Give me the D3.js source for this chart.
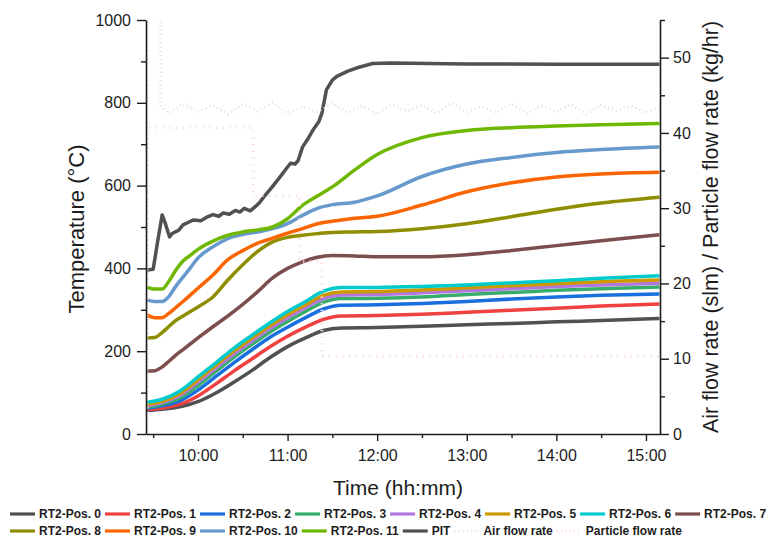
<!DOCTYPE html>
<html>
<head>
<meta charset="utf-8">
<script src="https://cdn.jsdelivr.net/npm/d3@7"></script>
<style>
  body { margin: 0; background: #fff; }
  svg { display: block; font-family: "Liberation Sans", Arial, sans-serif; }
</style>
</head>
<body>
<svg id="chart" width="771" height="543"></svg>
<script>
// ---- data ----
const lowTimes = ["9:26","9:36","9:48","10:00","10:12","10:24","10:36","10:48","11:00","11:12","11:24","11:36","12:00","12:30","13:00","13:30","14:00","14:30","15:09"];
const pos0 = [57, 60, 66, 78, 99, 125, 153, 184, 211, 232, 250, 256, 257, 260, 264, 267, 271, 274, 279];
const pos1 = [59, 63, 72, 92, 121, 152, 181, 210, 236, 258, 277, 285, 286, 289, 294, 299, 304, 309, 314];
const pos2 = [62, 68, 80, 106, 139, 172, 203, 233, 258, 281, 302, 311, 312, 315, 320, 326, 331, 335, 338];
const pos3 = [65, 72, 87, 117, 151, 185, 216, 246, 272, 296, 318, 327, 328, 331, 337, 342, 347, 351, 355];
const pos4 = [68, 76, 93, 125, 159, 193, 224, 254, 281, 305, 327, 336, 337, 341, 346, 351, 356, 360, 364];
const pos5 = [72, 79, 98, 131, 166, 200, 231, 261, 288, 312, 335, 343, 344, 348, 353, 358, 363, 368, 372];
const pos6 = [77, 84, 104, 138, 172, 207, 238, 268, 296, 320, 345, 354, 354, 356, 360, 365, 370, 376, 382];

const upTimes = ["9:26","9:31","9:36","9:40","9:45","9:50","9:55","10:00","10:10","10:20","10:30","10:40","10:50","11:00","11:10","11:20","11:30","11:45","12:00","12:30","13:00","13:30","14:00","14:30","15:09"];
const pos7  = [152, 153, 162, 174, 190, 204, 218, 232, 259, 285, 313, 344, 377, 400, 416, 427, 431, 430, 428, 428, 433, 443, 455, 467, 481];
const pos8  = [232, 233, 245, 258, 274, 285, 296, 307, 331, 372, 409, 441, 464, 475, 480, 484, 487, 488, 489, 496, 508, 525, 543, 558, 572];
const pos9  = [287, 281, 281, 290, 305, 320, 336, 352, 384, 421, 443, 461, 473, 485, 496, 508, 514, 521, 526, 553, 585, 607, 621, 628, 632];
const pos10 = [324, 320, 320, 330, 356, 379, 402, 425, 452, 472, 482, 488, 496, 508, 528, 545, 554, 560, 575, 622, 652, 668, 680, 687, 693];
const pos11 = [355, 350, 350, 366, 395, 418, 432, 446, 466, 480, 488, 493, 500, 520, 552, 575, 597, 638, 675, 716, 733, 740, 744, 747, 750];

const pitTimes = ["9:26","9:30","9:33","9:36","9:38","9:41","9:43","9:47","9:50","9:54","9:57","10:02","10:06","10:10","10:14","10:17","10:21","10:25","10:28","10:31","10:35","10:38","10:41","10:44","10:50","10:55","11:00","11:02","11:05","11:07","11:10","11:14","11:17","11:21","11:23","11:26","11:30","11:33","11:40","11:46","11:57","12:09","13:00","14:00","15:09"];
const pitValues = [396, 398, 465, 529, 510, 476, 485, 492, 505, 512, 517, 515, 524, 530, 526, 534, 531, 540, 536, 545, 539, 548, 558, 572, 598, 621, 645, 654, 652, 660, 693, 715, 734, 755, 775, 831, 855, 864, 876, 884, 895, 896, 894, 893, 893];

const airTimes = ["9:26","9:26","9:35","9:35","9:40","9:50","10:00","10:10","10:20","10:30","10:40","10:50","11:00","11:10","11:20","11:30","11:40","11:50","12:00","12:10","12:20","12:30","12:40","12:50","13:00","13:10","13:20","13:30","13:40","13:50","14:00","14:10","14:20","14:30","14:40","14:50","15:00","15:09"];
const airValues = [0, 60, 60, 43.6, 42.6, 43.9, 42.8, 43.7, 42.5, 43.8, 42.9, 44.0, 42.6, 43.5, 42.8, 43.9, 42.7, 43.6, 42.5, 43.8, 42.9, 43.7, 42.6, 44.0, 42.8, 43.5, 42.7, 43.9, 42.6, 43.6, 42.8, 43.8, 42.5, 43.7, 42.9, 43.6, 42.7, 43.4];

const particleTimes = ["9:26","9:26","10:37","10:37","11:08","11:08","11:23","11:23","15:09"];
const particleValues = [0, 40.7, 40.7, 31.7, 31.7, 22.9, 22.9, 10.3, 10.3];

const seriesNames = ["RT2-Pos. 0","RT2-Pos. 1","RT2-Pos. 2","RT2-Pos. 3","RT2-Pos. 4","RT2-Pos. 5","RT2-Pos. 6","RT2-Pos. 7","RT2-Pos. 8","RT2-Pos. 9","RT2-Pos. 10","RT2-Pos. 11","PIT","Air flow rate","Particle flow rate"];
const seriesColors = ["#515151","#F14040","#1A6FDF","#37AD6B","#B177DE","#CC9900","#00CBCC","#7D4E4E","#8E8E00","#FB6501","#6699CC","#6FB802","#515151","#e4e4e4","#f9dbe1"];

const tempTicks = [0, 200, 400, 600, 800, 1000];
const tempMinor = [100, 300, 500, 700, 900];
const flowTicks = [0, 10, 20, 30, 40, 50];
const flowMinor = [5, 15, 25, 35, 45, 55];
const hourTicks = ["10:00","11:00","12:00","13:00","14:00","15:00"];
const halfTicks = ["9:30","10:30","11:30","12:30","13:30","14:30"];

// ---- setup ----
const parseHM = d3.timeParse("%H:%M");
const parseHMS = d3.timeParse("%H:%M:%S");
const plot = { left: 146, right: 660, top: 20, bottom: 434 };
const ink = "#1c1c1c";
const font = '"Liberation Sans", Arial, sans-serif';

const svg = d3.select("#chart");

const x = d3.scaleTime()
  .domain([parseHMS("9:25:12"), parseHMS("15:09:24")])
  .range([plot.left, plot.right]);
const yT = d3.scaleLinear().domain([0, 1000]).range([plot.bottom, plot.top]);
const yF = d3.scaleLinear().domain([0, 55]).range([plot.bottom, plot.top]);

svg.append("defs").append("clipPath").attr("id", "clip")
  .append("rect")
  .attr("x", plot.left).attr("y", plot.top)
  .attr("width", plot.right - plot.left).attr("height", plot.bottom - plot.top);

// build series list
const tempSeries = [
  [lowTimes, pos0], [lowTimes, pos1], [lowTimes, pos2], [lowTimes, pos3],
  [lowTimes, pos4], [lowTimes, pos5], [lowTimes, pos6],
  [upTimes, pos7], [upTimes, pos8], [upTimes, pos9], [upTimes, pos10], [upTimes, pos11]
].map(([t, v], i) => ({
  name: seriesNames[i],
  color: seriesColors[i],
  pts: t.map((s, j) => ({ t: parseHM(s), v: v[j] }))
}));

const pit = pitTimes.map((s, j) => ({ t: parseHM(s), v: pitValues[j] }));
const air = airTimes.map((s, j) => ({ t: parseHM(s), v: airValues[j] }));
const particle = particleTimes.map((s, j) => ({ t: parseHM(s), v: particleValues[j] }));

const smoothT = d3.line().x(d => x(d.t)).y(d => yT(d.v)).curve(d3.curveMonotoneX);
const rawT = d3.line().x(d => x(d.t)).y(d => yT(d.v));
const rawF = d3.line().x(d => x(d.t)).y(d => yF(d.v));

const marks = svg.append("g").attr("clip-path", "url(#clip)");

marks.selectAll(".temp")
  .data(tempSeries)
  .enter()
  .append("path")
  .attr("class", "temp")
  .attr("d", d => smoothT(d.pts))
  .attr("fill", "none")
  .attr("stroke", d => d.color)
  .attr("stroke-width", 3.5)
  .attr("stroke-linejoin", "round");

marks.append("path")
  .attr("d", rawT(pit))
  .attr("fill", "none")
  .attr("stroke", seriesColors[12])
  .attr("stroke-width", 3.5)
  .attr("stroke-linejoin", "round");

marks.append("path")
  .attr("d", rawF(air))
  .attr("fill", "none")
  .attr("stroke", seriesColors[13])
  .attr("stroke-width", 2.5)
  .attr("stroke-dasharray", "1.2,3");

marks.append("path")
  .attr("d", rawF(particle))
  .attr("fill", "none")
  .attr("stroke", seriesColors[14])
  .attr("stroke-width", 3)
  .attr("stroke-dasharray", "1.2,5.5");

// ---- axes ----
function styleAxis(g) {
  g.attr("font-family", font).attr("font-size", 16);
  g.select(".domain").attr("stroke", ink).attr("stroke-width", 1.6);
  g.selectAll(".tick line").attr("stroke", ink).attr("stroke-width", 1.4);
  g.selectAll(".tick text").attr("fill", ink);
}
function minorAxis(g) {
  g.select(".domain").remove();
  g.selectAll(".tick line").attr("stroke", ink).attr("stroke-width", 1.4);
}

svg.append("g")
  .attr("transform", `translate(0,${plot.bottom})`)
  .call(d3.axisBottom(x).tickValues(halfTicks.map(parseHM)).tickSize(4).tickFormat(""))
  .call(minorAxis);
svg.append("g")
  .attr("transform", `translate(0,${plot.bottom})`)
  .call(d3.axisBottom(x).tickValues(hourTicks.map(parseHM)).tickSize(7).tickSizeOuter(0)
    .tickPadding(9).tickFormat(d3.timeFormat("%H:%M")))
  .call(styleAxis);

svg.append("g")
  .attr("transform", `translate(${plot.left},0)`)
  .call(d3.axisLeft(yT).tickValues(tempMinor).tickSize(5).tickFormat(""))
  .call(minorAxis);
svg.append("g")
  .attr("transform", `translate(${plot.left},0)`)
  .call(d3.axisLeft(yT).tickValues(tempTicks).tickSize(9).tickSizeOuter(0).tickPadding(6)
    .tickFormat(d3.format("d")))
  .call(styleAxis);

svg.append("g")
  .attr("transform", `translate(${plot.right},0)`)
  .call(d3.axisRight(yF).tickValues(flowMinor).tickSize(5).tickFormat(""))
  .call(minorAxis);
svg.append("g")
  .attr("transform", `translate(${plot.right},0)`)
  .call(d3.axisRight(yF).tickValues(flowTicks).tickSize(9).tickSizeOuter(0).tickPadding(4))
  .call(styleAxis);

// axis titles
svg.append("text")
  .attr("transform", "translate(84,229) rotate(-90)")
  .attr("text-anchor", "middle")
  .attr("font-family", font).attr("font-size", 22).attr("fill", ink)
  .text("Temperature (°C)");

svg.append("text")
  .attr("transform", "translate(718,227) rotate(-90)")
  .attr("text-anchor", "middle")
  .attr("font-family", font).attr("font-size", 21.5).attr("fill", ink)
  .text("Air flow rate (slm) / Particle flow rate (kg/hr)");

svg.append("text")
  .attr("x", 398).attr("y", 495)
  .attr("text-anchor", "middle")
  .attr("font-family", font).attr("font-size", 21).attr("fill", ink)
  .text("Time (hh:mm)");

// ---- legend (two rows, items flow left to right) ----
const legendRows = [seriesNames.slice(0, 8), seriesNames.slice(8)];
const legend = svg.append("g")
  .attr("font-family", font)
  .attr("font-size", 12)
  .attr("font-weight", "bold");

legendRows.forEach((row, r) => {
  const cy = r === 0 ? 514 : 531;
  let cx = 10;
  row.forEach(name => {
    const i = seriesNames.indexOf(name);
    const faint = i >= 13;
    legend.append("line")
      .attr("x1", cx).attr("x2", cx + 25)
      .attr("y1", cy).attr("y2", cy)
      .attr("stroke", seriesColors[i])
      .attr("stroke-width", faint ? 2.5 : 3.2)
      .attr("stroke-dasharray", faint ? "1.2,3" : null);
    const t = legend.append("text")
      .attr("x", cx + 29).attr("y", cy + 4.3)
      .attr("fill", ink)
      .text(name);
    cx += 29 + t.node().getComputedTextLength() + 4;
  });
});
</script>
</body>
</html>
